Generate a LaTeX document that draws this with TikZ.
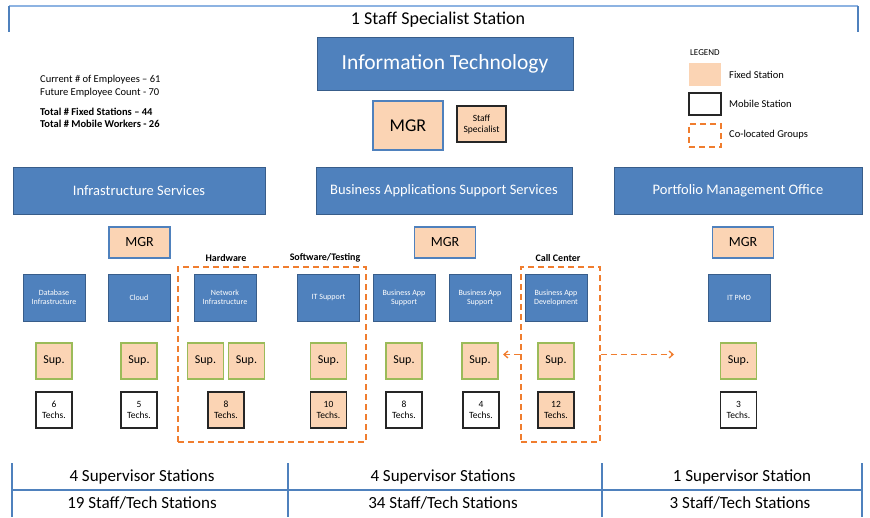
\documentclass[tikz,border=0pt]{standalone}
\usepackage{fontspec}
\setmainfont{Carlito}
\usetikzlibrary{arrows.meta}
\definecolor{itblue}{HTML}{4F81BD}
\definecolor{itblueline}{HTML}{385D8A}
\definecolor{lightline}{HTML}{8DB3E2}
\definecolor{peach}{HTML}{FBD4B4}
\definecolor{supgreen}{HTML}{9BBB59}
\definecolor{groupline}{HTML}{F07D2E}
\begin{document}
\begin{tikzpicture}[x=1pt,y=-1pt,
  bluebox/.style={draw=itblueline,line width=0.8pt,fill=itblue,text=white,inner sep=0pt,align=center},
  unitbox/.style={bluebox,minimum width=62pt,minimum height=47pt,font=\fontsize{8}{9}\selectfont},
  deptbox/.style={bluebox,minimum height=47pt,font=\fontsize{14.5}{17}\selectfont},
  mgrbox/.style={draw=itblue,line width=1.2pt,fill=peach,inner sep=0pt},
  supbox/.style={draw=supgreen,line width=1.4pt,fill=peach,inner sep=0pt,minimum size=36pt,font=\fontsize{12}{14}\selectfont},
  techbox/.style={draw=black!85,line width=1.4pt,fill=white,inner sep=0pt,minimum size=36pt,align=center,font=\fontsize{9.5}{11}\selectfont},
  fixedtech/.style={techbox,fill=peach},
  groupbox/.style={draw=groupline,line width=1.3pt,dash pattern=on 6pt off 4pt,inner sep=0pt},
  grouplabel/.style={font=\bfseries\fontsize{10}{12}\selectfont},
  note/.style={anchor=west,inner sep=0pt,font=\fontsize{10.5}{12}\selectfont},
  tabletext/.style={font=\fontsize{17}{20}\selectfont}]
\useasboundingbox (0,0) rectangle (870,517);

% top bracket
\draw[color=lightline,line width=1.2pt] (9,6) -- (858,6);
\draw[color=itblue,line width=1.5pt] (9,6) -- (9,32);
\draw[color=itblue,line width=1.5pt] (858,6) -- (858,32);
\node[font=\fontsize{18}{21}\selectfont] (toplabel) at (438,20) {1 Staff Specialist Station};

\node[bluebox,minimum width=256pt,minimum height=53pt,font=\fontsize{21.5}{25}\selectfont] (itbox) at (445,63.5) {Information Technology};
\node[mgrbox,minimum width=70pt,minimum height=49pt,font=\fontsize{18}{21}\selectfont] (mgrtop) at (408,125.5) {MGR};
\node[draw=black!85,line width=1.4pt,fill=peach,inner sep=0pt,minimum width=49pt,minimum height=36pt,align=center,font=\fontsize{9.5}{11}\selectfont] (staffspec) at (481.5,124) {Staff\\Specialist};

% counts
\node[note] (current) at (40,80) {Current \# of Employees -- 61};
\node[note] (future) at (40,93) {Future Employee Count - 70};
\node[note,font=\bfseries\fontsize{10.5}{12}\selectfont] (fixed) at (40,112) {Total \# Fixed Stations -- 44};
\node[note,font=\bfseries\fontsize{10.5}{12}\selectfont] (mobile) at (40,124) {Total \# Mobile Workers - 26};

% legend
\node[note,font=\fontsize{9}{11}\selectfont] (legend) at (690,53) {LEGEND};
\node[fill=peach,minimum width=32pt,minimum height=23pt,inner sep=0pt] (legfixed) at (705,74.5) {};
\node[draw=black!85,line width=1.4pt,minimum width=32pt,minimum height=22pt,inner sep=0pt] (legmobile) at (705,104) {};
\node[groupbox,minimum width=32pt,minimum height=23pt] (leggroup) at (705,135.5) {};
\node[note] (legfixedtext) at (729,75) {Fixed Station};
\node[note] (legmobiletext) at (729,104) {Mobile Station};
\node[note] (leggrouptext) at (729,135) {Co-located Groups};

% departments
\node[deptbox,minimum width=252pt] (infra) at (139,190.5) {Infrastructure Services};
\node[deptbox,minimum width=256pt] (bass) at (444,190.5) {Business Applications Support Services};
\node[deptbox,minimum width=248pt] (pmo) at (738,190.5) {Portfolio Management Office};

\node[mgrbox,minimum width=61pt,minimum height=31pt,font=\fontsize{14}{17}\selectfont] (mgrinfra) at (139.5,242.5) {MGR};
\node[mgrbox,minimum width=61pt,minimum height=31pt,font=\fontsize{14}{17}\selectfont] (mgrbass) at (445,242.5) {MGR};
\node[mgrbox,minimum width=61pt,minimum height=31pt,font=\fontsize{14}{17}\selectfont] (mgrpmo) at (743,242.5) {MGR};

% co-located groups
\node[groupbox,minimum width=188pt,minimum height=175pt] (hwgroup) at (272,354.5) {};
\node[groupbox,minimum width=79pt,minimum height=175pt] (callgroup) at (560.5,354.5) {};
\node[grouplabel] (hwlabel) at (226,258) {Hardware};
\node[grouplabel] (swlabel) at (325,258) {Software/Testing};
\node[grouplabel] (calllabel) at (558,258) {Call Center};

% units
\node[unitbox] (db) at (54,297.5) {Database\\Infrastructure};
\node[unitbox] (cloud) at (139,297.5) {Cloud};
\node[unitbox] (net) at (225,297.5) {Network\\Infrastructure};
\node[unitbox] (itsup) at (328.5,297.5) {IT Support};
\node[unitbox] (bas1) at (404,297.5) {Business App\\Support};
\node[unitbox] (bas2) at (480,297.5) {Business App\\Support};
\node[unitbox] (bad) at (556,297.5) {Business App\\Development};
\node[unitbox] (itpmo) at (739,297.5) {IT PMO};

% supervisors
\foreach \name/\cx in {supdb/54,supcloud/139,supneta/205.5,supnetb/246.5,supit/328.5,supbasa/404,supbasb/480,supbad/556,suppmo/738.5}
  \node[supbox] (\name) at (\cx,361) {Sup.};

% techs
\node[techbox] (techdb) at (54,410) {6\\Techs.};
\node[techbox] (techcloud) at (139,410) {5\\Techs.};
\node[fixedtech] (technet) at (226,410) {8\\Techs.};
\node[fixedtech] (techit) at (328.5,410) {10\\Techs.};
\node[techbox] (techbasa) at (404,410) {8\\Techs.};
\node[techbox] (techbasb) at (481,410) {4\\Techs.};
\node[fixedtech] (techbad) at (556,410) {12\\Techs.};
\node[techbox] (techpmo) at (738.5,410) {3\\Techs.};

\coordinate (callleft) at (503,354.5);
\coordinate (callright) at (674,354.5);
\draw[groupbox,-{Straight Barb[length=4pt,width=7pt]}] (callgroup.west) -- (callleft);
\draw[groupbox,-{Straight Barb[length=4pt,width=7pt]}] (callgroup.east) -- (callright);

% station table
\draw[color=itblue,line width=1.8pt] (12,490) -- (862,490);
\draw[color=itblue,line width=1.5pt] (12,463) -- (12,517);
\draw[color=itblue,line width=1.5pt] (288,463) -- (288,517);
\draw[color=itblue,line width=1.5pt] (602,463) -- (602,517);
\draw[color=itblue,line width=1.5pt] (862,463) -- (862,517);
\node[tabletext] (supinfra) at (142,477) {4 Supervisor Stations};
\node[tabletext] (supbass) at (443,477) {4 Supervisor Stations};
\node[tabletext] (suppmototal) at (742,477) {1 Supervisor Station};
\node[tabletext] (staffinfra) at (142,503) {19 Staff/Tech Stations};
\node[tabletext] (staffbass) at (443,503) {34 Staff/Tech Stations};
\node[tabletext] (staffpmo) at (740,503) {3 Staff/Tech Stations};
\end{tikzpicture}
\end{document}
